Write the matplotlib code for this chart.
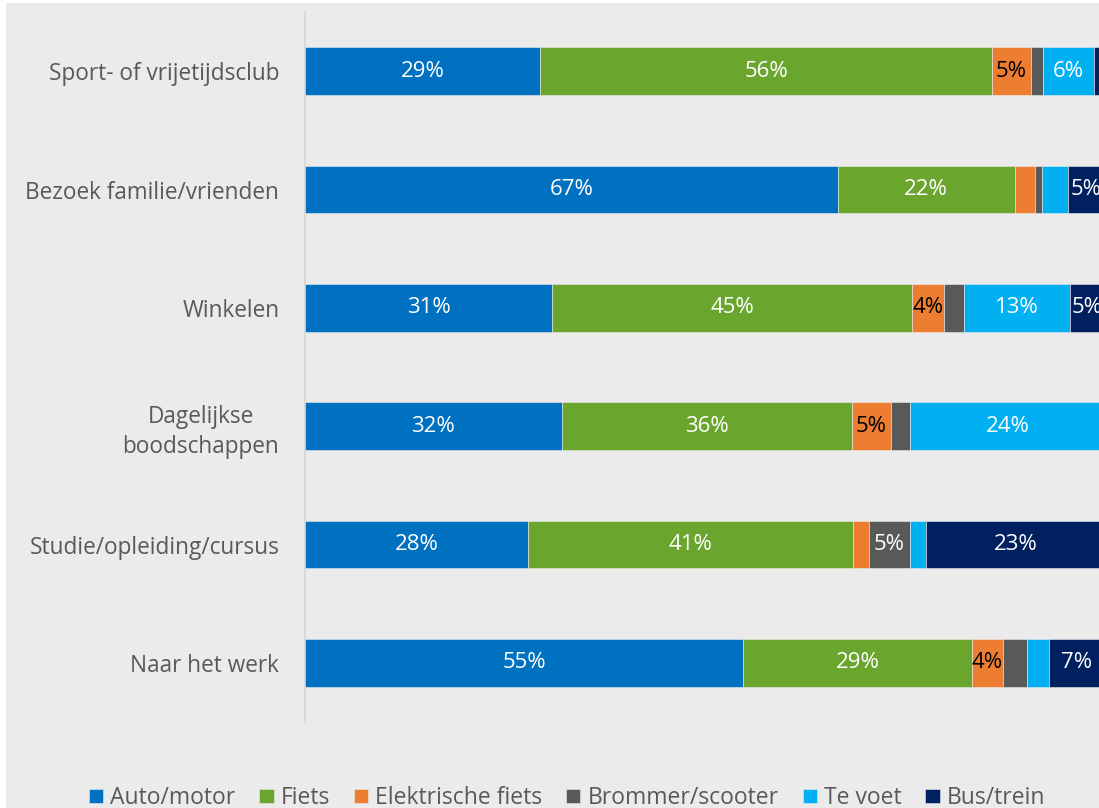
import matplotlib
matplotlib.use("Agg")
import matplotlib.pyplot as plt
from matplotlib.patches import Rectangle

plt.rcParams['font.family'] = ['Open Sans', 'DejaVu Sans']

categories = ["Sport- of vrijetijdsclub", "Bezoek familie/vrienden", "Winkelen",
              "Dagelijkse\nboodschappen", "Studie/opleiding/cursus", "Naar het werk"]
series_names = ["Auto/motor", "Fiets", "Elektrische fiets", "Brommer/scooter", "Te voet", "Bus/trein"]

auto = [29.4, 66.6, 30.9, 32.1, 27.9, 54.8]
fiets = [56.5, 22.1, 45.0, 36.3, 40.6, 28.6]
efiets = [4.8, 2.5, 4.0, 4.8, 2.0, 3.8]
brommer = [1.6, 0.9, 2.5, 2.4, 5.1, 3.0]
voet = [6.3, 3.3, 13.2, 24.4, 2.0, 2.8]
bus = [1.4, 4.6, 4.4, 0.0, 22.4, 7.0]

auto_lbl = ["29%", "67%", "31%", "32%", "28%", "55%"]
fiets_lbl = ["56%", "22%", "45%", "36%", "41%", "29%"]
efiets_lbl = ["5%", "", "4%", "5%", "", "4%"]
brommer_lbl = ["", "", "", "", "5%", ""]
voet_lbl = ["6%", "", "13%", "24%", "", ""]
bus_lbl = ["", "5%", "5%", "", "23%", "7%"]

colors = ["#0070c0", "#6aa62e", "#ed7d31", "#595959", "#00b0f0", "#002060"]
label_colors = ["white", "white", "black", "white", "white", "white"]

W, H = 1099, 808
fig = plt.figure(figsize=(W / 100, H / 100), dpi=100)
fig.patch.set_facecolor("white")
fig.patches.append(Rectangle((6 / W, 0), 1, 1 - 3 / H, transform=fig.transFigure,
                             facecolor="#ebebeb", edgecolor="none", zorder=-10))

ax = fig.add_axes([305 / W, 1 - 722 / H, 800 / W, 710 / H])
ax.set_facecolor("none")

data = [auto, fiets, efiets, brommer, voet, bus]
labels = [auto_lbl, fiets_lbl, efiets_lbl, brommer_lbl, voet_lbl, bus_lbl]
y = list(range(len(categories)))
left = [0.0] * len(categories)
for vals, lbls, name, col, lc in zip(data, labels, series_names, colors, label_colors):
    ax.barh(y, vals, left=left, height=0.405, color=col, label=name,
            edgecolor="#ebebeb", linewidth=0.4, zorder=3)
    for i, (v, l) in enumerate(zip(vals, lbls)):
        if l:
            ax.text(left[i] + v / 2, y[i], l, ha="center", va="center",
                    color=lc, fontsize=16, zorder=4)
    left = [a + b for a, b in zip(left, vals)]

ax.set_ylim(len(categories) - 0.5, -0.5)
ax.set_xlim(0, 100)
ax.set_yticks(y)
ax.set_yticklabels(categories, fontsize=16.3, color="#595959", multialignment="center",
                   linespacing=1.35)
ax.tick_params(axis="y", length=0, pad=18.5)
ax.set_xticks([])
for s in ["top", "right", "bottom"]:
    ax.spines[s].set_visible(False)
ax.spines["left"].set_color("#d9d9d9")
ax.spines["left"].set_linewidth(1.5)
ax.spines["left"].set_zorder(1)

handles, lbls = ax.get_legend_handles_labels()
leg = fig.legend(handles, lbls, loc="center", bbox_to_anchor=(567 / W, 1 - 798 / H),
                 ncol=6, frameon=False, fontsize=16.5, handlelength=0.62, handleheight=0.62,
                 handletextpad=0.3, columnspacing=1.05, labelcolor="#595959")

fig.savefig("out.png", dpi=100)
